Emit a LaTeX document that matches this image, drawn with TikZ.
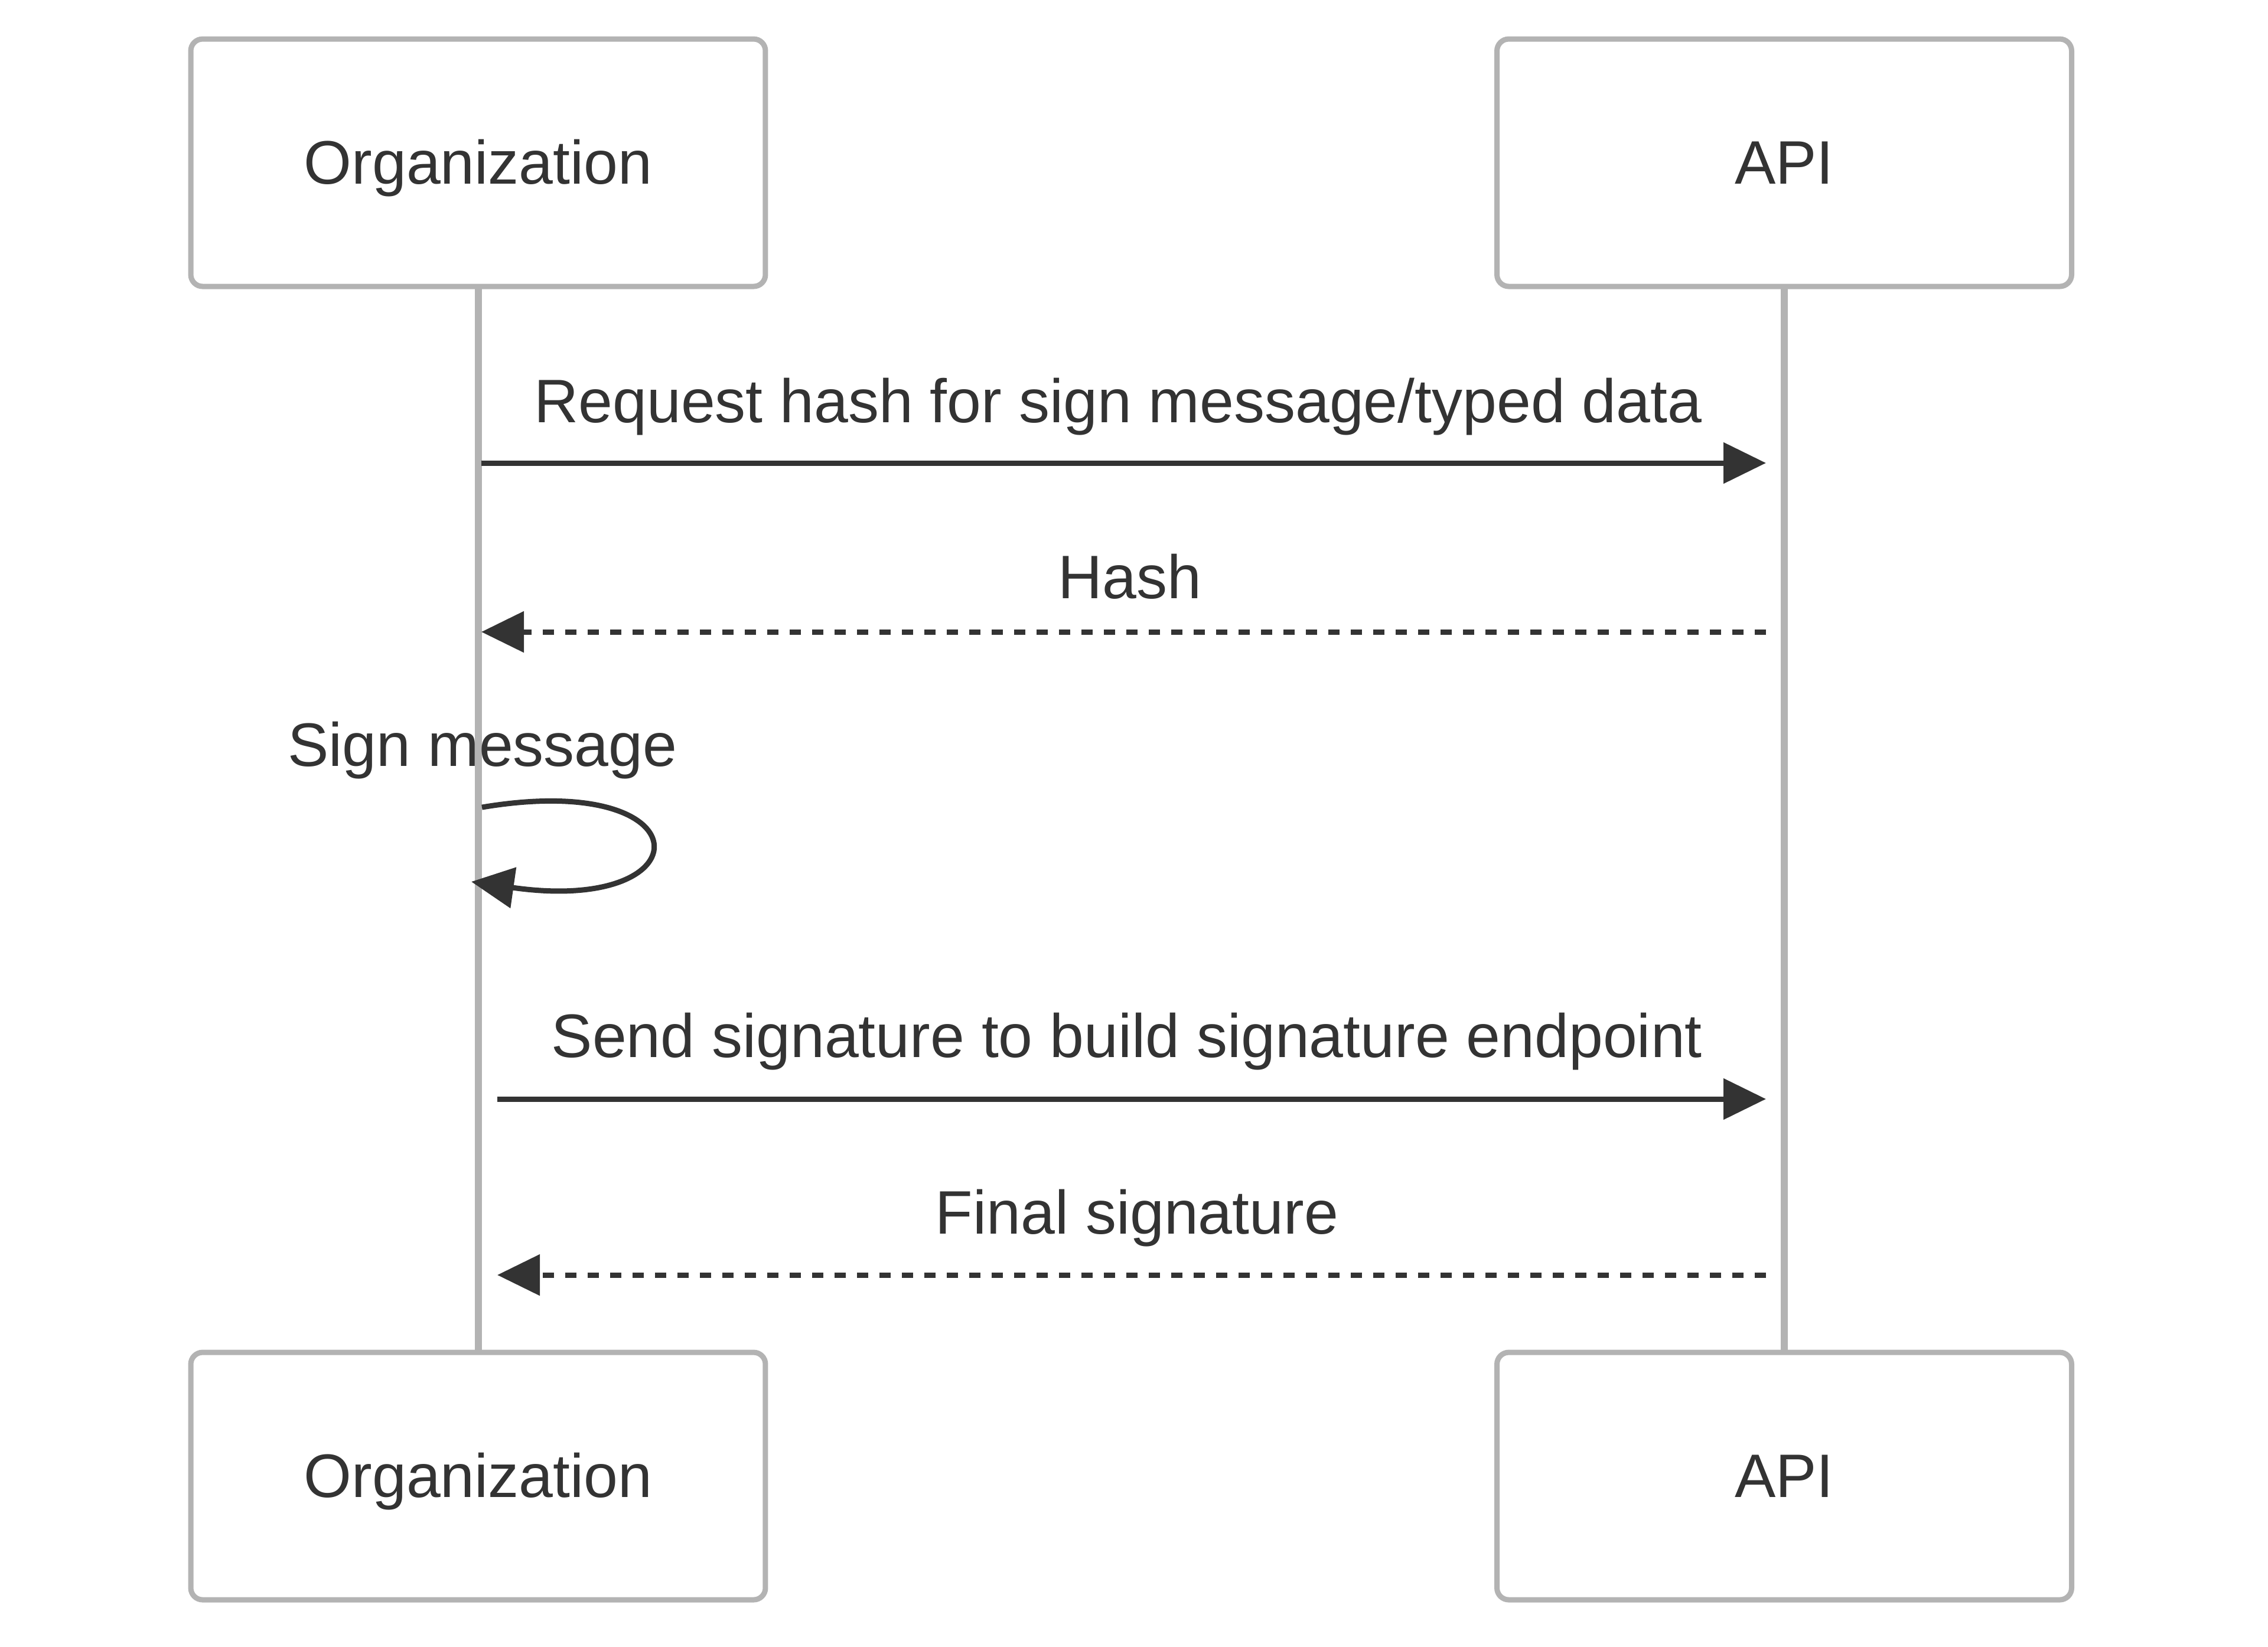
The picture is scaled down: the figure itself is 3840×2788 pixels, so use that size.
\documentclass[tikz,border=0pt]{standalone}
\usepackage{fontspec}
\setmainfont{Liberation Sans}
\usetikzlibrary{arrows.meta}
\definecolor{ink}{HTML}{333333}
\definecolor{edge}{HTML}{B3B3B3}
\tikzset{
  actor/.style={draw=edge, line width=0.9pt, fill=white, rounded corners=2pt,
    minimum width=97.3pt, minimum height=41.9pt, inner sep=0pt,
    text height=7.1pt, text depth=0pt,
    text=ink, font=\fontsize{10.4pt}{12pt}\selectfont},
  life/.style={draw=edge, line width=1.2pt},
  msgtext/.style={anchor=base, inner sep=0pt, text=ink, font=\fontsize{10.4pt}{12pt}\selectfont},
  msg/.style={draw=ink, line width=0.9pt, -{Triangle[length=7.2pt,width=6.8pt]}},
  reply/.style={msg, dash pattern=on 1.9pt off 1.9pt}
}
\begin{document}
\begin{tikzpicture}[x=0.1pt, y=-0.1pt]
\useasboundingbox (0,0) rectangle (3840,2788);
\fill[white] (0,0) rectangle (3840,2788);

% lifelines first (behind boxes)
\coordinate (orgTop) at (810,485);
\coordinate (orgBot) at (810,2290);
\coordinate (apiTop) at (3021,485);
\coordinate (apiBot) at (3021,2290);
\draw[life] (orgTop) -- (orgBot);
\draw[life] (apiTop) -- (apiBot);

% actors
\node[actor] (orgT) at (809.5,275.5) {Organization};
\node[actor] (apiT) at (3021,275.5) {API};
\node[actor] (orgB) at (809.5,2499.5) {Organization};
\node[actor] (apiB) at (3021,2499.5) {API};

% message end points on the lifelines
\coordinate (m1a) at (815,784);   \coordinate (m1b) at (2990,784);
\coordinate (m2a) at (2990,1070); \coordinate (m2b) at (815,1070);
\coordinate (s1a) at (816,1367);  \coordinate (s1b) at (798,1493);
\coordinate (m4a) at (842,1861);  \coordinate (m4b) at (2990,1861);
\coordinate (m5a) at (2990,2159); \coordinate (m5b) at (842,2159);

% labels
\node[msgtext] (t1) at (1893,715) {Request hash for sign message/typed data};
\node[msgtext] (t2) at (1913,1013) {Hash};
\node[msgtext] (t3) at (817,1297) {Sign message};
\node[msgtext] (t4) at (1908,1790) {Send signature to build signature endpoint};
\node[msgtext] (t5) at (1925,2089) {Final signature};

% messages
\draw[msg] (m1a) -- (m1b);
\draw[reply] (m2a) -- (m2b);
\draw[msg] (s1a) .. controls (1196,1303) and (1196,1550) .. (s1b);
\draw[msg] (m4a) -- (m4b);
\draw[reply] (m5a) -- (m5b);
\end{tikzpicture}
\end{document}
